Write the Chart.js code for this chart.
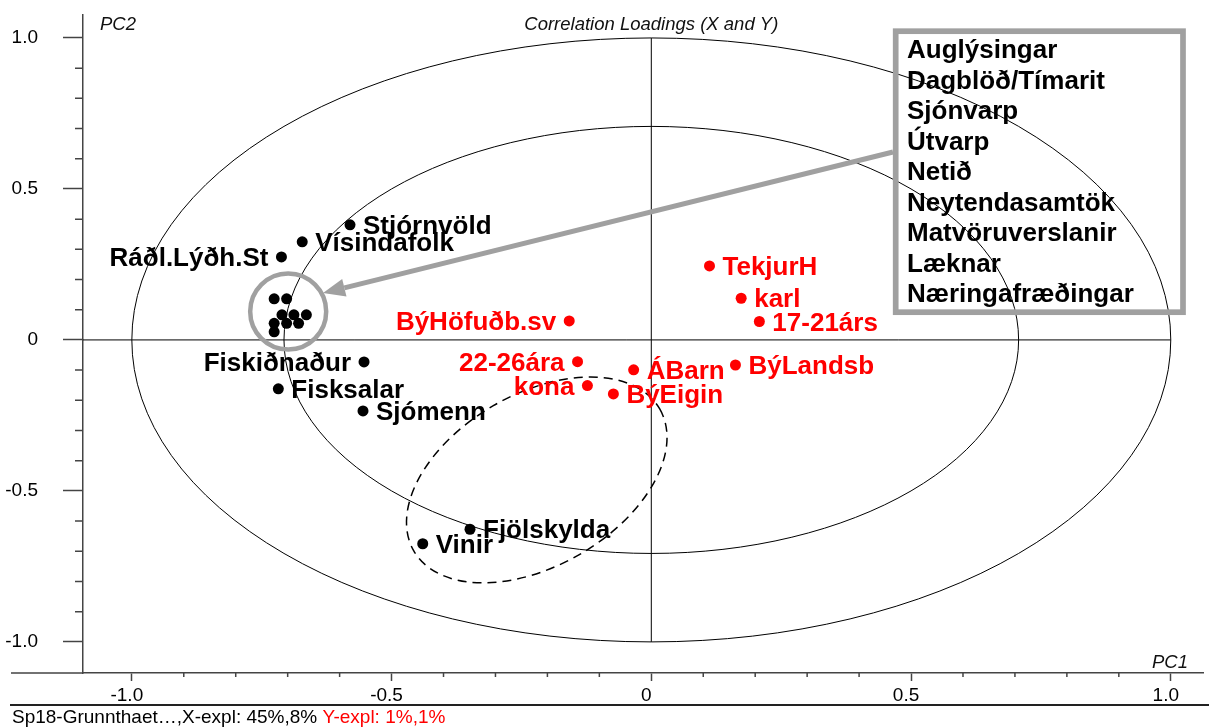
<!DOCTYPE html>
<html>
<head>
<meta charset="utf-8">
<title>Correlation Loadings (X and Y)</title>
<script src="https://cdn.jsdelivr.net/npm/chart.js@4.4.1/dist/chart.umd.min.js"></script>
<style>
	html, body { margin: 0; padding: 0; background: #fff; }
	#wrap { width: 1209px; height: 727px; }
</style>
</head>
<body>
<div id="wrap"><canvas id="loadings" width="1209" height="727"></canvas></div>
<script>
// Black loadings (X variables) with their own label
const blackNames = ["Stjórnvöld", "Vísindafolk", "Ráðl.Lýðh.St", "Fiskiðnaður", "Fisksalar", "Sjómenn", "Fjölskylda", "Vinir"];
const blackX = [-0.580, -0.672, -0.712, -0.553, -0.718, -0.555, -0.349, -0.440];
const blackY = [0.381, 0.325, 0.275, -0.073, -0.162, -0.235, -0.627, -0.675];

// Tight cluster of black loadings, named in the box
const clusterNames = ["Auglýsingar", "Dagblöð/Tímarit", "Sjónvarp", "Útvarp", "Netið", "Neytendasamtök", "Matvöruverslanir", "Læknar", "Næringafræðingar"];
const clusterX = [-0.726, -0.702, -0.711, -0.688, -0.664, -0.726, -0.702, -0.679, -0.726];
const clusterY = [0.136, 0.136, 0.083, 0.083, 0.083, 0.055, 0.055, 0.055, 0.027];

// Red loadings (Y variables)
const redNames = ["TekjurH", "karl", "17-21árs", "BýHöfuðb.sv", "22-26ára", "ÁBarn", "BýLandsb", "kona", "BýEigin"];
const redX = [0.112, 0.173, 0.208, -0.158, -0.142, -0.034, 0.162, -0.123, -0.073];
const redY = [0.245, 0.138, 0.061, 0.063, -0.072, -0.099, -0.083, -0.151, -0.179];

// Axis ticks
const xTicks = [-1.0, -0.5, 0, 0.5, 1.0];
const yTicks = [-1.0, -0.5, 0, 0.5, 1.0];
const minorStep = 0.1;

const footerBlack = "Sp18-Grunnthaet…,X-expl: 45%,8% ";
const footerRed = "Y-expl: 1%,1%";

// Labels that sit to the left of their point
const leftLabels = ["Ráðl.Lýðh.St", "Fiskiðnaður", "BýHöfuðb.sv", "22-26ára", "kona"];

const FONT = "'Liberation Sans', Arial, sans-serif";
const GRAY = "#a0a0a0";
const RED = "#ff0000";

function toPoints(xs, ys) {
	return xs.map((x, i) => ({ x: x, y: ys[i] }));
}

/**
 * Circles of 100% and 50% explained variance, zero lines and the dashed group
 */
const backdropPlugin = {
	id: "backdrop",
	beforeDatasetsDraw(chart) {
		const ctx = chart.ctx;
		const xs = chart.scales.x;
		const ys = chart.scales.y;
		const cx = xs.getPixelForValue(0);
		const cy = ys.getPixelForValue(0);
		const rx = xs.getPixelForValue(1) - cx;
		const ry = cy - ys.getPixelForValue(1);

		ctx.save();
		ctx.strokeStyle = "#000";
		ctx.lineWidth = 1;
		[1, Math.sqrt(0.5)].forEach((r) => {
			ctx.beginPath();
			ctx.ellipse(cx, cy, rx * r, ry * r, 0, 0, Math.PI * 2);
			ctx.stroke();
		});

		// zero lines
		ctx.beginPath();
		ctx.moveTo(chart.chartArea.left, cy);
		ctx.lineTo(xs.getPixelForValue(1), cy);
		ctx.moveTo(cx, ys.getPixelForValue(1));
		ctx.lineTo(cx, ys.getPixelForValue(-1));
		ctx.stroke();

		// dashed ellipse round Fjölskylda / Vinir
		ctx.setLineDash([9, 6]);
		ctx.lineWidth = 1.5;
		ctx.beginPath();
		ctx.ellipse(xs.getPixelForValue(-0.2205), ys.getPixelForValue(-0.4636), 142, 86, -Math.PI / 6, 0, Math.PI * 2);
		ctx.stroke();
		ctx.setLineDash([]);

		// gray ring round the cluster
		ctx.strokeStyle = GRAY;
		ctx.lineWidth = 4.5;
		ctx.beginPath();
		ctx.arc(xs.getPixelForValue(-0.699), ys.getPixelForValue(0.094), 38, 0, Math.PI * 2);
		ctx.stroke();
		ctx.restore();
	},
};

/**
 * Point names, legend box, arrow, minor ticks and captions
 */
const overlayPlugin = {
	id: "overlay",
	afterDatasetsDraw(chart) {
		const ctx = chart.ctx;
		const xs = chart.scales.x;
		const ys = chart.scales.y;
		const area = chart.chartArea;

		ctx.save();

		// point names
		ctx.font = "bold 26px " + FONT;
		ctx.textBaseline = "alphabetic";
		chart.data.datasets.forEach((ds, i) => {
			if (!ds.names) return;
			chart.getDatasetMeta(i).data.forEach((pt, j) => {
				const name = ds.names[j];
				const left = leftLabels.includes(name);
				ctx.fillStyle = ds.backgroundColor;
				ctx.textAlign = left ? "right" : "left";
				ctx.fillText(name, pt.x + (left ? -13 : 13), pt.y + 9);
			});
		});

		// box with cluster names
		ctx.strokeStyle = GRAY;
		ctx.lineWidth = 5.7;
		ctx.strokeRect(895.7, 31.2, 287.3, 281);
		ctx.fillStyle = "#000";
		ctx.textAlign = "left";
		clusterNames.forEach((name, i) => {
			ctx.fillText(name, 907, 58 + i * 30.5);
		});

		// arrow from box to ring
		const sx = 893;
		const sy = 152;
		const tx = xs.getPixelForValue(-0.632);
		const ty = ys.getPixelForValue(0.155);
		const ang = Math.atan2(ty - sy, tx - sx);
		const headLen = 22;
		const headW = 9;
		const bx = tx - headLen * Math.cos(ang);
		const by = ty - headLen * Math.sin(ang);
		ctx.strokeStyle = GRAY;
		ctx.lineWidth = 5;
		ctx.beginPath();
		ctx.moveTo(sx, sy);
		ctx.lineTo(bx, by);
		ctx.stroke();
		ctx.fillStyle = GRAY;
		ctx.beginPath();
		ctx.moveTo(tx, ty);
		ctx.lineTo(bx + headW * Math.sin(ang), by - headW * Math.cos(ang));
		ctx.lineTo(bx - headW * Math.sin(ang), by + headW * Math.cos(ang));
		ctx.closePath();
		ctx.fill();

		// minor ticks
		ctx.strokeStyle = "#444";
		ctx.lineWidth = 1.5;
		ctx.beginPath();
		for (let k = -10; k <= 10; k++) {
			if (k % 5 === 0) continue;
			const v = k * minorStep;
			const py = ys.getPixelForValue(v);
			ctx.moveTo(area.left - 8, py);
			ctx.lineTo(area.left, py);
			const px = xs.getPixelForValue(v);
			ctx.moveTo(px, area.bottom);
			ctx.lineTo(px, area.bottom + 4);
		}
		// x axis runs on past the y axis
		ctx.moveTo(11, area.bottom);
		ctx.lineTo(area.left, area.bottom);
		ctx.stroke();

		// captions
		ctx.fillStyle = "#111";
		ctx.font = "italic 18.5px " + FONT;
		ctx.textAlign = "center";
		ctx.fillText("Correlation Loadings (X and Y)", xs.getPixelForValue(0), 30);
		ctx.textAlign = "left";
		ctx.fillText("PC2", 100, 30);
		ctx.textAlign = "right";
		ctx.fillText("PC1", 1188, 668);

		// footer
		ctx.strokeStyle = "#222";
		ctx.lineWidth = 2;
		ctx.beginPath();
		ctx.moveTo(10, 705);
		ctx.lineTo(1209, 705);
		ctx.stroke();
		ctx.font = "19px " + FONT;
		ctx.textAlign = "left";
		ctx.fillStyle = "#000";
		ctx.fillText(footerBlack, 12, 723);
		const w = ctx.measureText(footerBlack).width;
		ctx.fillStyle = RED;
		ctx.fillText(footerRed, 12 + w, 723);

		ctx.restore();
	},
};

function tickLabel(v) {
	return v === 0 ? "0" : v.toFixed(1);
}

const config = {
	type: "scatter",
	data: {
		datasets: [
			{
				names: blackNames,
				data: toPoints(blackX, blackY),
				backgroundColor: "#000",
			},
			{
				data: toPoints(clusterX, clusterY),
				backgroundColor: "#000",
			},
			{
				names: redNames,
				data: toPoints(redX, redY),
				backgroundColor: RED,
			},
		],
	},
	options: {
		responsive: false,
		animation: false,
		devicePixelRatio: 1,
		layout: {
			padding: { top: 15, right: 0, bottom: 22, left: 0 },
		},
		elements: {
			point: { radius: 5.5, borderWidth: 0, hoverRadius: 5.5 },
		},
		plugins: {
			legend: { display: false },
			title: { display: false },
			tooltip: { enabled: false },
		},
		scales: {
			x: {
				type: "linear",
				min: -1.094,
				max: 1.063,
				afterBuildTicks: (s) => {
					s.ticks = xTicks.map((v) => ({ value: v }));
				},
				afterFit: (s) => {
					s.height = 32;
					s.paddingLeft = 0;
					s.paddingRight = 0;
				},
				ticks: {
					callback: tickLabel,
					color: "#000",
					font: { family: FONT, size: 19 },
					padding: 3,
					labelOffset: -5,
					maxRotation: 0,
				},
				grid: {
					drawOnChartArea: false,
					drawTicks: true,
					tickLength: 8,
					tickColor: "#444",
					tickWidth: 1.5,
				},
				border: { color: "#444", width: 1.5 },
			},
			y: {
				type: "linear",
				min: -1.103,
				max: 1.076,
				afterBuildTicks: (s) => {
					s.ticks = yTicks.map((v) => ({ value: v }));
				},
				afterFit: (s) => {
					s.width = 83;
					s.paddingTop = 0;
					s.paddingBottom = 0;
				},
				ticks: {
					callback: tickLabel,
					color: "#000",
					font: { family: FONT, size: 19 },
					padding: 25,
				},
				grid: {
					drawOnChartArea: false,
					drawTicks: true,
					tickLength: 20,
					tickColor: "#444",
					tickWidth: 1.5,
				},
				border: { color: "#444", width: 1.5 },
			},
		},
	},
	plugins: [backdropPlugin, overlayPlugin],
};

new Chart(document.getElementById("loadings"), config);
</script>
</body>
</html>
